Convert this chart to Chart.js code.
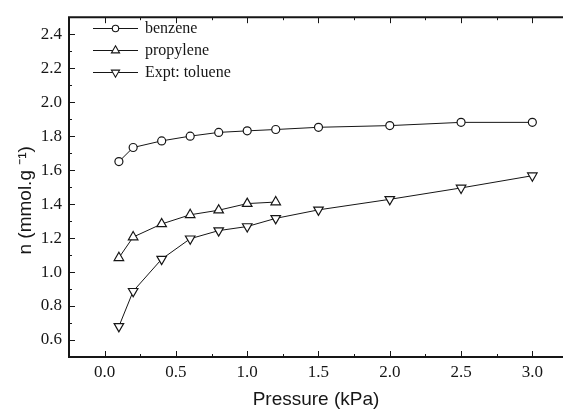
<!DOCTYPE html>
<html>
<head>
<meta charset="utf-8">
<script src="https://cdn.jsdelivr.net/npm/chart.js@4.4.1/dist/chart.umd.min.js"></script>
<style>
  html, body { margin: 0; padding: 0; background: #fff; overflow: hidden; }
</style>
</head>
<body>
<canvas id="isotherm" width="563" height="412"></canvas>
<script>
// adsorption isotherm values
const benzeneP = [0.1, 0.2, 0.4, 0.6, 0.8, 1.0, 1.2, 1.5, 2.0, 2.5, 3.0];
const benzeneN = [1.65, 1.733, 1.772, 1.80, 1.822, 1.831, 1.839, 1.852, 1.862, 1.881, 1.881];

const propyleneP = [0.1, 0.2, 0.4, 0.6, 0.8, 1.0, 1.2];
const propyleneN = [1.084, 1.206, 1.283, 1.337, 1.364, 1.403, 1.412];

const tolueneP = [0.1, 0.2, 0.4, 0.6, 0.8, 1.0, 1.2, 1.5, 2.0, 2.5, 3.0];
const tolueneN = [0.68, 0.887, 1.076, 1.196, 1.244, 1.268, 1.316, 1.366, 1.428, 1.495, 1.567];

const xTicks = [0, 0.5, 1.0, 1.5, 2.0, 2.5, 3.0];
const xMinor = [-0.25, 0.25, 0.75, 1.25, 1.75, 2.25, 2.75];
const yTicks = [0.6, 0.8, 1.0, 1.2, 1.4, 1.6, 1.8, 2.0, 2.2, 2.4];
const yMinor = [0.7, 0.9, 1.1, 1.3, 1.5, 1.7, 1.9, 2.1, 2.3];

const ink = '#161616';
const serif = '"Liberation Serif", "Times New Roman", serif';
const sans = '"Liberation Sans", Arial, sans-serif';

const toPoints = (xs, ys) => xs.map((x, i) => ({ x: x, y: ys[i] }));

const series = (label, xs, ys, style, rotation, radius) => ({
  label: label,
  data: toPoints(xs, ys),
  borderColor: ink,
  borderWidth: 1,
  pointStyle: style,
  pointRotation: rotation,
  pointRadius: radius,
  pointHoverRadius: radius,
  pointBackgroundColor: '#fff',
  pointBorderColor: ink,
  pointBorderWidth: 1.2,
  tension: 0,
  fill: false,
});

// frame with inward ticks (no right edge, the figure is cut there) + the line/marker legend
const frameAndLegend = {
  id: 'frameAndLegend',
  afterDraw(chart) {
    const { ctx, chartArea: a, scales: { x, y } } = chart;
    ctx.save();
    ctx.strokeStyle = ink;
    ctx.lineWidth = 2;
    ctx.beginPath();
    ctx.moveTo(a.right + 2, a.top);
    ctx.lineTo(a.left, a.top);
    ctx.lineTo(a.left, a.bottom);
    ctx.lineTo(a.right + 2, a.bottom);
    ctx.stroke();

    ctx.lineWidth = 1;
    ctx.beginPath();
    const xTick = (v, len) => {
      const px = Math.round(x.getPixelForValue(v)) + 0.5;
      ctx.moveTo(px, a.bottom);
      ctx.lineTo(px, a.bottom - len);
      ctx.moveTo(px, a.top);
      ctx.lineTo(px, a.top + len);
    };
    const yTick = (v, len) => {
      const py = Math.round(y.getPixelForValue(v)) + 0.5;
      ctx.moveTo(a.left, py);
      ctx.lineTo(a.left + len, py);
    };
    xTicks.forEach(v => xTick(v, 6));
    xMinor.forEach(v => xTick(v, 3));
    yTicks.forEach(v => yTick(v, 6));
    yMinor.forEach(v => yTick(v, 3));
    ctx.stroke();

    const rows = [28, 50, 72];
    ctx.font = '16px ' + serif;
    ctx.textBaseline = 'middle';
    chart.data.datasets.forEach((ds, i) => {
      const ry = rows[i] + 0.5;
      ctx.strokeStyle = ink;
      ctx.lineWidth = 1;
      ctx.beginPath();
      ctx.moveTo(93, ry);
      ctx.lineTo(138, ry);
      ctx.stroke();
      ctx.fillStyle = '#fff';
      ctx.lineWidth = 1.1;
      Chart.helpers.drawPoint(ctx, {
        pointStyle: ds.pointStyle,
        rotation: ds.pointRotation,
        radius: ds.pointRadius - 0.8,
        borderWidth: 1.1,
      }, 115.5, ry);
      ctx.fillStyle = ink;
      ctx.fillText(ds.label, 145, ry);
    });
    ctx.restore();
  }
};

new Chart(document.getElementById('isotherm'), {
  type: 'line',
  data: {
    datasets: [
      series('benzene', benzeneP, benzeneN, 'circle', 0, 4),
      series('propylene', propyleneP, propyleneN, 'triangle', 0, 5.5),
      series('Expt: toluene', tolueneP, tolueneN, 'triangle', 180, 5.5),
    ],
  },
  options: {
    responsive: false,
    animation: false,
    layout: { autoPadding: false, padding: { top: 13, right: 0, left: 0, bottom: 0 } },
    plugins: { legend: { display: false }, tooltip: { enabled: false } },
    scales: {
      x: {
        type: 'linear',
        min: -0.25,
        max: 3.215,
        grid: { display: false, drawTicks: false },
        border: { display: false },
        afterBuildTicks: s => { s.ticks = xTicks.map(v => ({ value: v })); },
        afterFit: s => { s.height = 55; },
        ticks: {
          autoSkip: false,
          maxRotation: 0,
          padding: 5,
          color: ink,
          font: { family: serif, size: 17 },
          callback: v => v.toFixed(1),
        },
        title: {
          display: true,
          text: 'Pressure (kPa)',
          color: ink,
          font: { family: sans, size: 19 },
          padding: { top: 0, bottom: 1 },
        },
      },
      y: {
        min: 0.5,
        max: 2.5,
        grid: { display: false, drawTicks: false },
        border: { display: false },
        afterBuildTicks: s => { s.ticks = yTicks.map(v => ({ value: v })); },
        afterFit: s => { s.width = 69; },
        ticks: {
          padding: 7,
          color: ink,
          font: { family: serif, size: 17 },
          callback: v => v.toFixed(1),
        },
        title: {
          display: true,
          text: 'n (mmol.g \u207B\u00B9)\u00A0\u00A0\u00A0\u00A0\u00A0',
          color: ink,
          font: { family: sans, size: 19 },
          padding: { top: 14, bottom: 0 },
        },
      },
    },
  },
  plugins: [frameAndLegend],
});
</script>
</body>
</html>
